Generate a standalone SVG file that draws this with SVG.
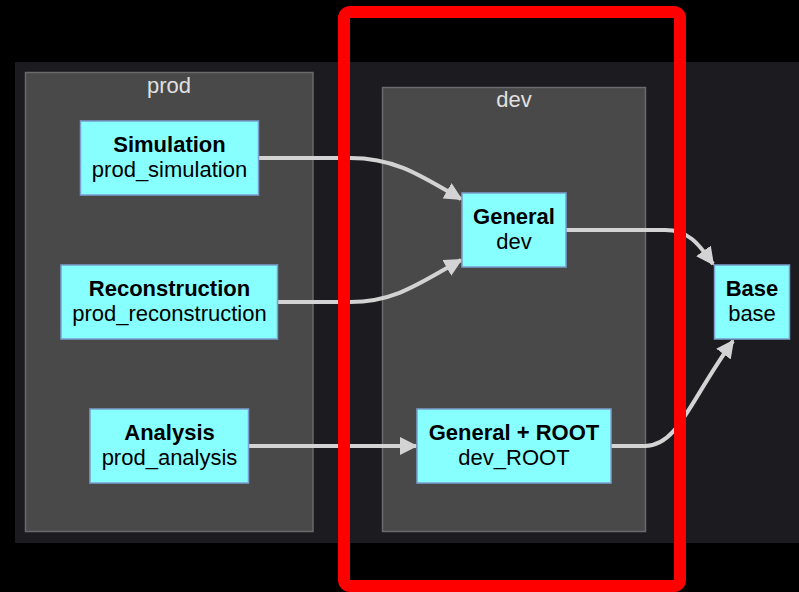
<svg xmlns="http://www.w3.org/2000/svg" width="799" height="592" viewBox="0 0 799 592">
<defs>
<style>
.cluster{fill:#484948;stroke:#6a6a6a;stroke-width:1.5}
.clabel{font-family:"Liberation Sans",Arial,sans-serif;font-size:22px;fill:#e0e0e0;text-anchor:middle}
.node rect{fill:#88ffff;stroke:#7a9fd0;stroke-width:1.5}
.node text{font-family:"Liberation Sans",Arial,sans-serif;font-size:22px;fill:#000;text-anchor:middle}
.node .t{font-weight:bold}
.edge{fill:none;stroke:#d3d3d3;stroke-width:4}
</style>
<marker id="arr" viewBox="0 0 10 10" refX="9" refY="5" markerWidth="4.5" markerHeight="4.5" orient="auto" markerUnits="strokeWidth">
<path d="M0,0 L10,5 L0,10 z" fill="#d3d3d3"/>
</marker>
</defs>
<rect x="0" y="0" width="799" height="592" fill="#000"/>
<rect x="15" y="62" width="784" height="481" fill="#1b1b20"/>
<g id="cluster-prod">
<rect class="cluster" x="25.5" y="72.5" width="287.5" height="459"/>
<text class="clabel" x="169" y="93">prod</text>
</g>
<g id="cluster-dev">
<rect class="cluster" x="382.5" y="87.5" width="263" height="444"/>
<text class="clabel" x="514" y="107">dev</text>
</g>
<g id="connectors">
<path class="edge" marker-end="url(#arr)" d="M258,158 L350,158 C395,158 420,175 461,199"/>
<path class="edge" marker-end="url(#arr)" d="M277,302 L350,302 C395,302 420,283 461,260"/>
<path class="edge" marker-end="url(#arr)" d="M248,446 L416,446"/>
<path class="edge" marker-end="url(#arr)" d="M566,230 L665,230 C690,230 700,246 713,264"/>
<path class="edge" marker-end="url(#arr)" d="M611,446 L645,446 C678,446 690,400 733,341"/>
</g>
<g id="node-simulation" class="node">
<rect x="80.5" y="121" width="178" height="74"/>
<text class="t" x="169.5" y="152">Simulation</text>
<text x="169.5" y="177">prod_simulation</text>
</g>
<g id="node-reconstruction" class="node">
<rect x="61" y="265" width="216.5" height="74"/>
<text class="t" x="169.5" y="296">Reconstruction</text>
<text x="169.5" y="321">prod_reconstruction</text>
</g>
<g id="node-analysis" class="node">
<rect x="90" y="409" width="158.5" height="74"/>
<text class="t" x="169.5" y="440">Analysis</text>
<text x="169.5" y="465">prod_analysis</text>
</g>
<g id="node-general" class="node">
<rect x="462" y="193" width="104" height="74"/>
<text class="t" x="514" y="224">General</text>
<text x="514" y="249">dev</text>
</g>
<g id="node-general-root" class="node">
<rect x="417" y="409" width="194" height="74"/>
<text class="t" x="514" y="440">General + ROOT</text>
<text x="514" y="465">dev_ROOT</text>
</g>
<g id="node-base" class="node">
<rect x="714.5" y="265" width="75" height="74"/>
<text class="t" x="752" y="296">Base</text>
<text x="752" y="321">base</text>
</g>
<rect x="344" y="12" width="336" height="574" rx="6" fill="none" stroke="#ff0000" stroke-width="12"/>
</svg>
